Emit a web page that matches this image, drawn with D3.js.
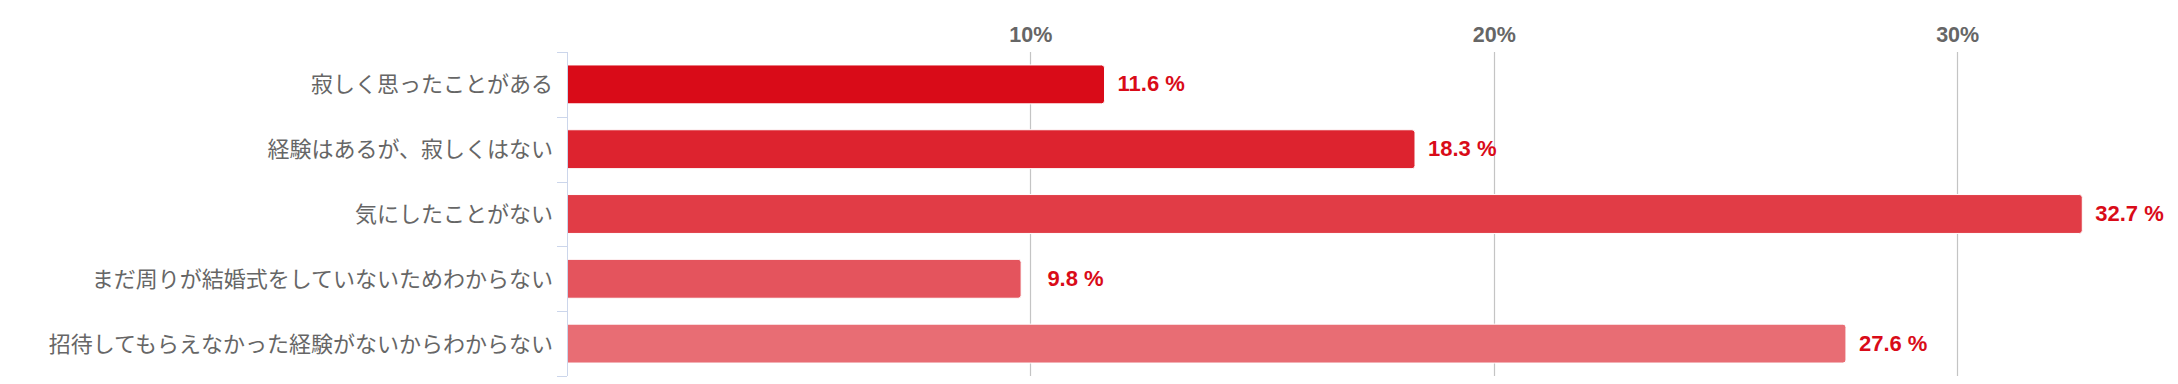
<!DOCTYPE html>
<html>
<head>
<meta charset="utf-8">
<script src="https://cdn.jsdelivr.net/npm/d3@7"></script>
<style>
  body { margin: 0; background: #fff; }
  svg { display: block; }
</style>
</head>
<body>
<svg class="chart"></svg>
<script>
let categories = [
  '寂しく思ったことがある',
  '経験はあるが、寂しくはない',
  '気にしたことがない',
  'まだ周りが結婚式をしていないためわからない',
  '招待してもらえなかった経験がないからわからない'
];
let values = [11.6, 18.3, 32.7, 9.8, 27.6];
let tickValues = [10, 20, 30];
let barOpacity = [1, 0.9, 0.8, 0.7, 0.6];

let totalWidth = 2178;
let totalHeight = 384;
let margin = { top: 52, right: 10, bottom: 8, left: 567 };
let width = totalWidth - margin.left - margin.right;
let height = totalHeight - margin.top - margin.bottom;

let baseRed = d3.rgb('#d90b18');

// mix the base red with white, like an opacity over a white page
function shade(a) {
  return d3.interpolateRgb('#ffffff', baseRed)(a);
}

let x = d3.scaleLinear()
    .domain([0, 34.55])
    .range([0, width]);

// bands without padding: used for the category ticks
let yCat = d3.scaleBand()
    .domain(categories)
    .range([0, height]);

// bands for the bars themselves
let y = d3.scaleBand()
    .domain(categories)
    .range([0, height])
    .paddingInner(0.4)
    .paddingOuter(0.2);

let svg = d3.select('.chart')
    .attr('width', totalWidth)
    .attr('height', totalHeight);

let chart = svg.append('g')
    .attr('transform', `translate(${margin.left},${margin.top})`);

// vertical grid lines
chart.append('g')
    .attr('class', 'grid')
  .selectAll('line')
    .data(tickValues)
  .enter().append('line')
    .attr('x1', (d) => Math.round(x(d)) + 0.5)
    .attr('x2', (d) => Math.round(x(d)) + 0.5)
    .attr('y1', 0)
    .attr('y2', height)
    .attr('stroke', '#c4c4c4')
    .attr('stroke-width', 1.2);

// value axis on top
let xAxis = d3.axisTop(x)
    .tickValues(tickValues)
    .tickSize(0)
    .tickPadding(10)
    .tickFormat((d) => d + '%');

chart.append('g')
    .attr('class', 'x axis')
    .call(xAxis)
    .call((g) => g.select('.domain').remove())
    .call((g) => g.selectAll('text')
        .attr('fill', '#666666')
        .style('font-family', '"Liberation Sans", Arial, sans-serif')
        .style('font-size', '21.5px')
        .style('font-weight', 'bold'));

// bars with rounded ends
function barPath(v, y0, h) {
  let x0 = x(0), x1 = x(v), r = 3;
  return `M${x0},${y0}H${x1 - r}Q${x1},${y0} ${x1},${y0 + r}` +
         `V${y0 + h - r}Q${x1},${y0 + h} ${x1 - r},${y0 + h}H${x0}Z`;
}

chart.selectAll('.bar')
    .data(categories)
  .enter().append('path')
    .attr('class', 'bar')
    .attr('d', (d, i) => barPath(values[i], y(d), y.bandwidth()))
    .attr('fill', (d, i) => shade(barOpacity[i]))
    .attr('stroke', '#ffffff')
    .attr('stroke-width', 1);

// category axis on the left
let yAxis = d3.axisLeft(yCat)
    .tickSize(0)
    .tickPadding(14);

chart.append('g')
    .attr('class', 'y axis')
    .call(yAxis)
    .call((g) => g.select('.domain').remove())
    .call((g) => g.selectAll('text')
        .attr('fill', '#666666')
        .attr('dy', '0.36em')
        .style('font-family', '"Noto Sans CJK JP", "Noto Sans", sans-serif')
        .style('font-size', '22px'));

let boundaries = categories.map((d) => yCat(d)).concat([height]);

chart.append('g')
    .attr('class', 'y ticks')
  .selectAll('line')
    .data(boundaries)
  .enter().append('line')
    .attr('x1', -10)
    .attr('x2', 0)
    .attr('y1', (d) => Math.round(d) + 0.5)
    .attr('y2', (d) => Math.round(d) + 0.5)
    .attr('stroke', '#ccd6eb')
    .attr('stroke-width', 1);

chart.append('line')
    .attr('x1', 0.5)
    .attr('x2', 0.5)
    .attr('y1', 0)
    .attr('y2', height)
    .attr('stroke', '#ccd6eb')
    .attr('stroke-width', 1);

// value labels, nudged past a grid line when they would sit on it
function labelX(v) {
  let lx = x(v) + 13;
  tickValues.forEach((t) => {
    if (lx >= x(t) - 3 && lx < x(t) + 10) lx = x(t) + 17;
  });
  return lx;
}

chart.selectAll('.value')
    .data(categories)
  .enter().append('text')
    .attr('class', 'value')
    .attr('x', (d, i) => labelX(values[i]))
    .attr('y', (d) => yCat(d) + yCat.bandwidth() / 2 + 7)
    .attr('fill', '#d90b18')
    .style('font-family', '"Liberation Sans", Arial, sans-serif')
    .style('font-size', '22px')
    .style('font-weight', 'bold')
    .text((d, i) => values[i].toFixed(1) + ' %');
</script>
</body>
</html>
